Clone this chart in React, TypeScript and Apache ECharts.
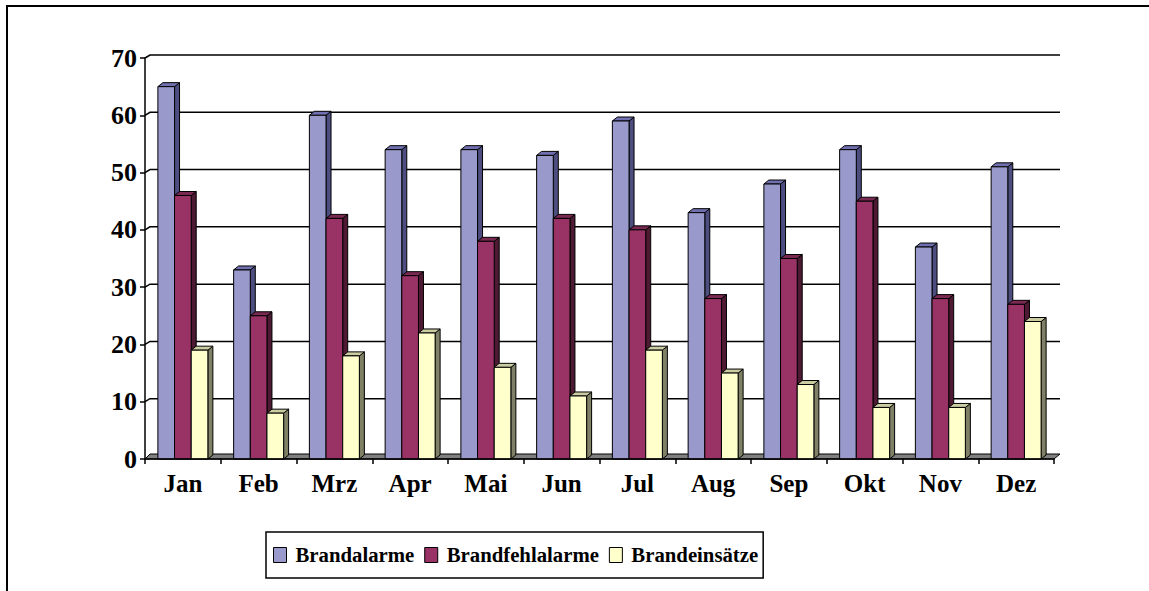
import React, { useEffect, useRef } from "react";
import * as echarts from "echarts";

const categories = ["Jan", "Feb", "Mrz", "Apr", "Mai", "Jun", "Jul", "Aug", "Sep", "Okt", "Nov", "Dez"];
const brandalarme = [65, 33, 60, 54, 54, 53, 59, 43, 48, 54, 37, 51];
const brandfehlalarme = [46, 25, 42, 32, 38, 42, 40, 28, 35, 45, 28, 27];
const brandeinsaetze = [19, 8, 18, 22, 16, 11, 19, 15, 13, 9, 9, 24];
const yTicks = [0, 10, 20, 30, 40, 50, 60, 70];

const seriesDefs = [
  { name: "Brandalarme", values: brandalarme, front: "#9999CC", side: "#4D4D80", top: "#7070B0" },
  { name: "Brandfehlalarme", values: brandfehlalarme, front: "#993366", side: "#4D1933", top: "#7A2952" },
  { name: "Brandeinsätze", values: brandeinsaetze, front: "#FFFFCC", side: "#808066", top: "#CCCCA3" },
];

const FONT = "'Liberation Serif', 'Times New Roman', serif";
const DX = 5;
const DY = 4;

export default function App() {
  const ref = useRef<HTMLDivElement>(null);
  useEffect(() => {
    if (!ref.current) return;
    const chart = echarts.init(ref.current, null, { renderer: "svg" });

    const wallSeries: any = {
      type: "custom",
      name: "wall",
      silent: true,
      z: 1,
      data: yTicks.map((v) => [0, v]),
      renderItem: (params: any, api: any) => {
        const cs = params.coordSys;
        const v = api.value(1);
        const y = api.coord([0, v])[1];
        const x0 = cs.x;
        const x1 = cs.x + cs.width;
        if (v === 0) {
          return {
            type: "polygon",
            shape: { points: [[x0, y], [x1, y], [x1 + DX + 1, y - DY - 1], [x0 + DX, y - DY - 1]] },
            style: { fill: "#808080", stroke: "#000", lineWidth: 1 },
          };
        }
        return {
          type: "polyline",
          shape: { points: [[x0, y], [x0 + DX, y - 3], [x1 + DX + 1, y - 3]] },
          style: { fill: "none", stroke: "#000", lineWidth: 1.5 },
        };
      },
    };

    const barSeries = seriesDefs.map((def, si) => ({
      type: "custom",
      name: def.name,
      z: 2 + si,
      itemStyle: { color: def.front, borderColor: "#000", borderWidth: 1 },
      data: def.values.map((v, i) => [i, v]),
      encode: { x: 0, y: 1 },
      renderItem: (params: any, api: any) => {
        const idx = api.value(0);
        const val = api.value(1);
        const topPt = api.coord([idx, val]);
        const basePt = api.coord([idx, 0]);
        const bw = api.size([1, 0])[0] * 0.22;
        const left = topPt[0] + (si - 1.5) * bw;
        const top = topPt[1];
        const base = basePt[1];
        const right = left + bw;
        return {
          type: "group",
          children: [
            {
              type: "polygon",
              shape: { points: [[right, top], [right + DX, top - DY], [right + DX, base - DY], [right, base]] },
              style: { fill: def.side, stroke: "#000", lineWidth: 1 },
            },
            {
              type: "polygon",
              shape: { points: [[left, top], [left + DX, top - DY], [right + DX, top - DY], [right, top]] },
              style: { fill: def.top, stroke: "#000", lineWidth: 1 },
            },
            {
              type: "rect",
              shape: { x: left, y: top, width: bw, height: base - top },
              style: { fill: def.front, stroke: "#000", lineWidth: 1 },
            },
          ],
        };
      },
    }));

    chart.setOption({
      animation: false,
      backgroundColor: "#fff",
      grid: { left: 145, right: 95, top: 58, bottom: 132, containLabel: false },
      xAxis: {
        type: "category",
        data: categories,
        boundaryGap: true,
        axisLine: { show: true, lineStyle: { color: "#000", width: 1.5 } },
        axisTick: { show: true, length: 5, alignWithLabel: false, lineStyle: { color: "#000", width: 1.5 } },
        axisLabel: { color: "#000", fontSize: 25, fontWeight: "bold", fontFamily: FONT, margin: 12 },
        splitLine: { show: false },
        z: 10,
      },
      yAxis: {
        type: "value",
        min: 0,
        max: 70,
        interval: 10,
        axisLine: { show: true, lineStyle: { color: "#000", width: 1.5 } },
        axisTick: { show: true, length: 5, lineStyle: { color: "#000", width: 1.5 } },
        axisLabel: { color: "#000", fontSize: 26, fontWeight: "bold", fontFamily: FONT, margin: 8 },
        splitLine: { show: false },
      },
      legend: {
        data: seriesDefs.map((d) => d.name),
        left: 266,
        top: 532,
        orient: "horizontal",
        icon: "rect",
        itemWidth: 13,
        itemHeight: 15,
        itemGap: 10,
        padding: [11, 5, 11, 7],
        borderColor: "#000",
        borderWidth: 1.5,
        itemStyle: { borderColor: "#000", borderWidth: 1 },
        textStyle: { color: "#000", fontSize: 20.75, fontWeight: "bold", fontFamily: FONT, padding: [0, 0, 0, 4], lineHeight: 24 },
        selectedMode: false,
      },
      graphic: [
        {
          type: "rect",
          shape: { x: 7, y: 6, width: 1300, height: 700 },
          style: { fill: "none", stroke: "#000", lineWidth: 2 },
          silent: true,
        },
      ],
      series: [wallSeries, ...barSeries],
    });
    return () => chart.dispose();
  }, []);
  return <div ref={ref} style={{ position: "absolute", left: 0, top: 0, width: 1149, height: 591 }} />;
}
